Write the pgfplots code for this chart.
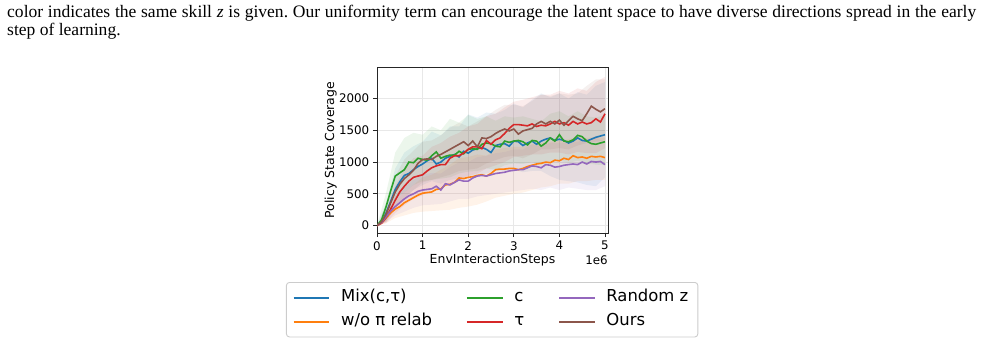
\documentclass[border=0pt]{standalone}
\usepackage{pgfplots}
\pgfplotsset{compat=1.18}
\usepackage{pgfplotstable}
\usepgfplotslibrary{fillbetween}
\usepackage{fontspec}
\setmainfont{DejaVu Sans}
\newfontfamily\capfont{Liberation Serif}
\definecolor{cB}{HTML}{1F77B4}
\definecolor{cO}{HTML}{FF7F0E}
\definecolor{cG}{HTML}{2CA02C}
\definecolor{cR}{HTML}{D62728}
\definecolor{cP}{HTML}{9467BD}
\definecolor{cN}{HTML}{8C564B}

% mean curves (x in 1e6 steps)
\pgfplotstableread{
x y
0 0
0.1 60
0.2 200
0.3 380
0.4 570
0.5 690
0.6 790
0.7 820
0.8 880
0.9 930
1.0 970
1.1 1020
1.2 1060
1.3 970
1.4 1000
1.5 1060
1.6 1090
1.7 1120
1.8 1080
1.9 1170
2.0 1140
2.1 1190
2.2 1210
2.3 1230
2.4 1200
2.5 1150
2.6 1260
2.7 1280
2.8 1290
2.9 1250
3.0 1330
3.1 1320
3.2 1260
3.3 1300
3.4 1330
3.5 1280
3.6 1330
3.7 1360
3.8 1380
3.9 1340
4.0 1360
4.1 1340
4.2 1300
4.3 1330
4.4 1380
4.5 1340
4.6 1330
4.7 1360
4.8 1390
4.9 1410
5.0 1430
}\mixT
\pgfplotstableread{
x y
0 0
0.1 40
0.2 120
0.3 200
0.4 260
0.5 300
0.6 360
0.7 400
0.8 440
0.9 480
1.0 510
1.1 520
1.2 530
1.3 570
1.4 580
1.5 640
1.6 650
1.7 680
1.8 750
1.9 740
2.0 760
2.1 770
2.2 790
2.3 800
2.4 780
2.5 820
2.6 880
2.7 890
2.8 890
2.9 900
3.0 900
3.1 880
3.2 900
3.3 930
3.4 950
3.5 970
3.6 980
3.7 1000
3.8 990
3.9 1030
4.0 1020
4.1 1060
4.2 1040
4.3 1100
4.4 1070
4.5 1080
4.6 1060
4.7 1090
4.8 1080
4.9 1090
5.0 1070
}\woT
\pgfplotstableread{
x y
0 0
0.1 90
0.2 300
0.3 550
0.4 780
0.5 830
0.6 880
0.7 1000
0.8 990
0.9 1060
1.0 1040
1.1 1030
1.2 1100
1.3 1160
1.4 1060
1.5 1090
1.6 1110
1.7 1110
1.8 1170
1.9 1130
2.0 1200
2.1 1210
2.2 1200
2.3 1280
2.4 1300
2.5 1290
2.6 1250
2.7 1240
2.8 1330
2.9 1310
3.0 1330
3.1 1340
3.2 1320
3.3 1270
3.4 1340
3.5 1330
3.6 1250
3.7 1300
3.8 1380
3.9 1330
4.0 1430
4.1 1330
4.2 1320
4.3 1350
4.4 1420
4.5 1400
4.6 1330
4.7 1290
4.8 1280
4.9 1300
5.0 1320
}\cT
\pgfplotstableread{
x y
0 0
0.1 40
0.2 130
0.3 260
0.4 400
0.5 530
0.6 620
0.7 700
0.8 760
0.9 780
1.0 800
1.1 860
1.2 910
1.3 940
1.4 960
1.5 960
1.6 1060
1.7 1100
1.8 1100
1.9 1140
2.0 1200
2.1 1240
2.2 1240
2.3 1210
2.4 1340
2.5 1280
2.6 1350
2.7 1380
2.8 1450
2.9 1530
3.0 1590
3.1 1590
3.2 1580
3.3 1570
3.4 1600
3.5 1560
3.6 1580
3.7 1570
3.8 1600
3.9 1640
4.0 1600
4.1 1620
4.2 1580
4.3 1640
4.4 1600
4.5 1630
4.6 1600
4.7 1620
4.8 1680
4.9 1630
5.0 1760
}\tauT
\pgfplotstableread{
x y
0 0
0.1 50
0.2 140
0.3 230
0.4 300
0.5 360
0.6 420
0.7 470
0.8 500
0.9 540
1.0 560
1.1 570
1.2 580
1.3 620
1.4 560
1.5 660
1.6 640
1.7 680
1.8 720
1.9 700
2.0 700
2.1 750
2.2 780
2.3 790
2.4 780
2.5 800
2.6 820
2.7 830
2.8 840
2.9 860
3.0 870
3.1 880
3.2 880
3.3 910
3.4 940
3.5 930
3.6 910
3.7 960
3.8 950
3.9 920
4.0 930
4.1 950
4.2 960
4.3 970
4.4 960
4.5 1000
4.6 970
4.7 1010
4.8 1000
4.9 1010
5.0 960
}\rndT
\pgfplotstableread{
x y
0 0
0.1 60
0.2 180
0.3 360
0.4 530
0.5 650
0.6 740
0.7 800
0.8 870
0.9 980
1.0 1040
1.1 1050
1.2 1040
1.3 1090
1.4 1120
1.5 1160
1.6 1200
1.7 1240
1.8 1280
1.9 1320
2.0 1260
2.1 1330
2.2 1240
2.3 1380
2.4 1370
2.5 1400
2.6 1450
2.7 1490
2.8 1520
2.9 1490
3.0 1520
3.1 1440
3.2 1490
3.3 1510
3.4 1530
3.5 1600
3.6 1640
3.7 1600
3.8 1640
3.9 1600
4.0 1660
4.1 1580
4.2 1650
4.3 1720
4.4 1680
4.5 1650
4.6 1760
4.7 1880
4.8 1830
4.9 1790
5.0 1840
}\oursT

% shaded bands (x lo hi)
\pgfplotstableread{
x lo hi
0 0 0
0.2 60 360
0.4 300 900
0.6 420 1150
0.8 560 1250
1.0 640 1320
1.2 700 1480
1.4 660 1420
1.6 720 1560
1.8 740 1560
2.0 780 1750
2.2 800 1700
2.4 820 1780
2.6 860 1760
2.8 860 1820
3.0 880 1920
3.2 840 1860
3.4 860 1980
3.6 860 2080
3.8 780 2020
4.0 720 2080
4.2 700 2000
4.4 680 2100
4.6 640 2060
4.8 620 2200
5.0 760 2260
}\mixB
\pgfplotstableread{
x lo hi
0 0 0
0.2 40 200
0.4 120 400
0.6 160 520
0.8 200 640
1.0 220 760
1.2 230 800
1.4 240 880
1.6 250 960
1.8 280 1060
2.0 300 1080
2.2 330 1120
2.4 380 1100
2.6 440 1200
2.8 470 1220
3.0 500 1240
3.2 520 1240
3.4 560 1280
3.6 600 1300
3.8 620 1320
4.0 660 1340
4.2 660 1360
4.4 700 1400
4.6 700 1380
4.8 720 1400
5.0 720 1380
}\woB
\pgfplotstableread{
x lo hi
0 0 0
0.2 80 520
0.4 420 1150
0.6 520 1380
0.8 640 1460
1.0 700 1430
1.2 720 1560
1.4 740 1500
1.6 760 1680
1.8 820 1620
2.0 850 1740
2.2 860 1680
2.4 900 1720
2.6 880 1650
2.8 950 1720
3.0 980 1700
3.2 970 1720
3.4 1000 1680
3.6 960 1640
3.8 1000 1760
4.0 1020 1800
4.2 990 1720
4.4 1020 1800
4.6 980 1720
4.8 960 1700
5.0 950 1740
}\greenB
\pgfplotstableread{
x lo hi
0 0 0
0.2 40 240
0.4 200 620
0.6 320 900
0.8 420 1060
1.0 480 1100
1.2 560 1240
1.4 600 1300
1.6 660 1400
1.8 720 1460
2.0 780 1560
2.2 820 1600
2.4 900 1720
2.6 950 1760
2.8 1000 1860
3.0 1080 1950
3.2 1100 1980
3.4 1120 2020
3.6 1120 2060
3.8 1150 2060
4.0 1150 2120
4.2 1120 2080
4.4 1160 2160
4.6 1140 2120
4.8 1140 2260
5.0 1220 2340
}\tauB
\pgfplotstableread{
x lo hi
0 0 0
0.2 60 240
0.4 160 460
0.6 220 600
0.8 280 720
1.0 320 800
1.2 330 830
1.4 340 820
1.6 380 920
1.8 420 1000
2.0 420 1000
2.2 460 1080
2.4 480 1100
2.6 500 1140
2.8 520 1160
3.0 540 1200
3.2 560 1200
3.4 580 1280
3.6 560 1260
3.8 600 1300
4.0 560 1300
4.2 600 1300
4.4 580 1320
4.6 560 1360
4.8 560 1380
5.0 620 1320
}\rndB
\pgfplotstableread{
x lo hi
0 0 0
0.2 60 320
0.4 280 780
0.6 440 1040
0.8 560 1180
1.0 680 1320
1.2 720 1340
1.4 760 1420
1.6 800 1540
1.8 860 1620
2.0 880 1560
2.2 900 1640
2.4 980 1720
2.6 1030 1820
2.8 1080 1900
3.0 1100 1900
3.2 1060 1880
3.4 1120 1960
3.6 1200 2060
3.8 1200 2040
4.0 1220 2080
4.2 1200 2060
4.4 1260 2080
4.6 1300 2200
4.8 1320 2300
5.0 1340 2300
}\oursB

\newcommand{\band}[3]{%
  \addplot[draw=none, forget plot, name path=#2h] table[x=x,y=hi]{#1};
  \addplot[draw=none, forget plot, name path=#2l] table[x=x,y=lo]{#1};
  \addplot[fill=#3, fill opacity=0.09, draw=none, forget plot] fill between[of=#2h and #2l];
}
\newcommand{\legline}[1]{\addlegendimage{legend image code/.code={\draw[draw=#1, line width=1.6bp] (0bp,0bp) -- (35.6bp,0bp);}}}

\begin{document}
\begin{tikzpicture}[x=1bp,y=1bp]
\path (0,0) rectangle (986,355);
\node[anchor=base west, inner sep=0, font=\capfont\fontsize{17.6}{18.4}\selectfont] at (7,337.7)
  {\frenchspacing\makebox[969bp][s]{color indicates the same skill \textit{z} is given. Our uniformity term can encourage the latent space to have diverse directions spread in the early}};
\node[anchor=base west, inner sep=0, font=\capfont\fontsize{17.6}{18.4}\selectfont] at (7,319.3)
  {step of learning.};
\begin{axis}[
  at={(377bp,122bp)}, anchor=south west,
  scale only axis, width=231bp, height=165bp,
  xmin=0, xmax=5.066, ymin=-116, ymax=2480,
  clip mode=individual,
  xtick={0,1,2,3,4,5}, ytick={0,500,1000,1500,2000},
  xtick pos=bottom, ytick pos=left,
  tick align=outside, major tick length=4.2bp,
  tick style={black!85, line width=0.9bp},
  axis line style={black!85, line width=1bp},
  grid=major, grid style={black!9, line width=0.9bp},
  /pgf/number format/assume math mode=true,
  /pgf/number format/1000 sep={},
  ticklabel style={font=\fontsize{11.9}{13}\selectfont},
  xticklabel style={yshift=-0.5bp},
  label style={font=\fontsize{12.5}{14}\selectfont},
  xlabel={EnvInteractionSteps},
  xlabel style={at={(axis description cs:0.5,-0.165)}, anchor=center},
  ylabel={Policy State Coverage},
  ylabel style={at={(axis description cs:-0.201,0.503)}, anchor=center},
  legend columns=3,
  legend cell align=left,
  legend style={at={(axis description cs:-0.394,-0.297)}, anchor=north west,
    draw=black!20, line width=0.9bp, rounded corners=3bp, fill=white,
    font=\fontsize{16.5}{19}\selectfont,
    inner xsep=6.5bp, inner ysep=4.5bp, row sep=2.5bp,
    nodes={inner sep=3bp, text height=12bp, text depth=3.5bp},
    /tikz/every odd column/.append style={column sep=8bp},
    /tikz/every even column/.append style={column sep=31bp}},
]
\band{\mixB}{mb}{cB}
\band{\woB}{wb}{cO}
\band{\greenB}{gb}{cG}
\band{\tauB}{rb}{cR}
\band{\rndB}{pb}{cP}
\band{\oursB}{nb}{cN}
\addplot[cB, line width=1.6bp, forget plot] table[x=x,y=y]{\mixT};
\addplot[cO, line width=1.6bp, forget plot] table[x=x,y=y]{\woT};
\addplot[cG, line width=1.6bp, forget plot] table[x=x,y=y]{\cT};
\addplot[cR, line width=1.6bp, forget plot] table[x=x,y=y]{\tauT};
\addplot[cP, line width=1.6bp, forget plot] table[x=x,y=y]{\rndT};
\addplot[cN, line width=1.6bp, forget plot] table[x=x,y=y]{\oursT};
\legline{cB}\addlegendentry{Mix(c,τ)}
\legline{cG}\addlegendentry{c}
\legline{cP}\addlegendentry{Random z}
\legline{cO}\addlegendentry{w/o π relab}
\legline{cR}\addlegendentry{τ}
\legline{cN}\addlegendentry{Ours}
\node[anchor=center, font=\fontsize{11.9}{13}\selectfont] at (axis description cs:0.95,-0.165) {1e6};
\end{axis}
\end{tikzpicture}
\end{document}
